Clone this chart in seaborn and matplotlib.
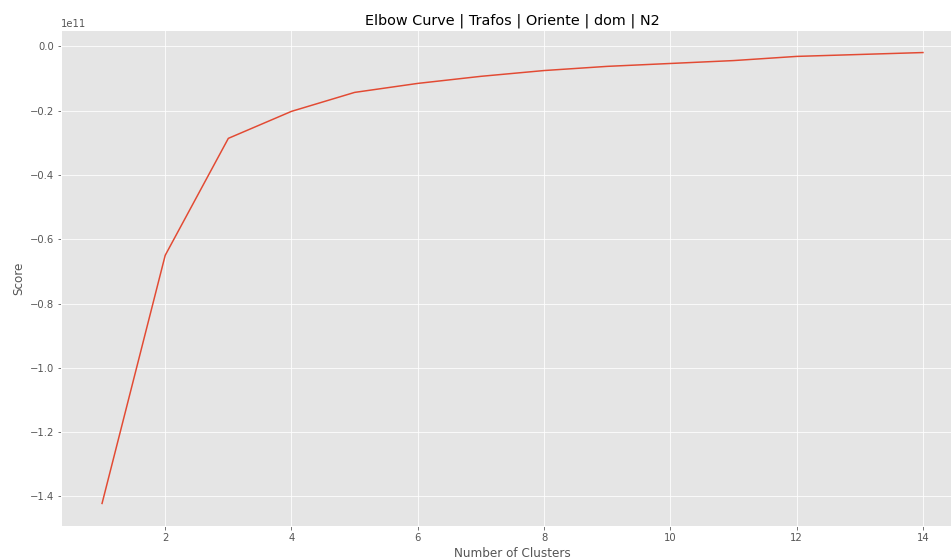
import numpy as np
import pandas as pd
import matplotlib
matplotlib.use('Agg')
import matplotlib.pyplot as plt
import seaborn as sns

# elbow scores (units of 1e11)
n_clusters = list(range(1, 15))
score = [-1.422, -0.650, -0.286, -0.202, -0.143, -0.115, -0.093,
         -0.075, -0.062, -0.053, -0.044, -0.031, -0.025, -0.019]

df = pd.DataFrame({'Number of Clusters': n_clusters,
                   'Score': np.array(score) * 1e11})

plt.style.use('ggplot')

fig = plt.figure(figsize=(951 / 72, 560 / 72), dpi=72)
ax = fig.add_axes([61 / 951, 1 - 526 / 560, 903 / 951, 496 / 560])

sns.lineplot(data=df, x='Number of Clusters', y='Score', ax=ax, color='#E24A33')

ax.set_xticks([2, 4, 6, 8, 10, 12, 14])
ax.set_title('Elbow Curve | Trafos | Oriente | dom | N2', color='black', fontsize=14.4)
ax.set_xlabel('Number of Clusters')
ax.set_ylabel('Score')

fig.savefig('out.png', dpi=72)
